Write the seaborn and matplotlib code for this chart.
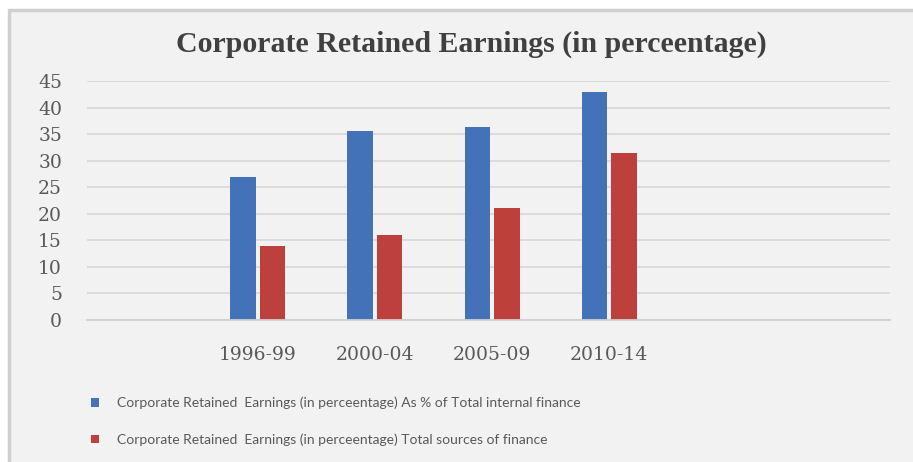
import matplotlib
matplotlib.use("Agg")
import matplotlib.pyplot as plt
from matplotlib.patches import Rectangle
import seaborn as sns
import pandas as pd

periods = ["1996-99", "2000-04", "2005-09", "2010-14"]
internal_finance = [27.0, 35.6, 36.4, 42.9]
total_sources = [14.0, 16.0, 21.1, 31.4]
series_names = [
    "Corporate Retained  Earnings (in perceentage) As % of Total internal finance",
    "Corporate Retained  Earnings (in perceentage) Total sources of finance",
]
y_ticks = [0, 5, 10, 15, 20, 25, 30, 35, 40, 45]
title = "Corporate Retained Earnings (in perceentage)"

df = pd.DataFrame({
    "period": periods * 2,
    "value": internal_finance + total_sources,
    "series": [series_names[0]] * len(periods) + [series_names[1]] * len(periods),
})

sns.set_style("white")
W, H = 913, 462
fig = plt.figure(figsize=(W / 100, H / 100), dpi=100)
fig.patch.set_facecolor("white")
# chart frame
fig.patches.append(Rectangle((9 / W, -0.01), 1.02, 1 - 10 / H + 0.01, transform=fig.transFigure,
                             facecolor="#f2f2f2", edgecolor="#cfcfcf", linewidth=2.5, zorder=-5))

ax = fig.add_axes([87 / W, 1 - 320 / H, (890 - 87) / W, (320 - 81) / H])
ax.set_facecolor("none")
ax.set_zorder(2)

palette = {series_names[0]: "#4472B8", series_names[1]: "#BE403D"}
sns.barplot(data=df, x="period", y="value", hue="series", order=periods,
            hue_order=series_names, palette=palette, width=0.5, gap=0.12,
            saturation=1, ax=ax, legend=True, linewidth=0, edgecolor="none")

ax.set_ylim(0, 45)
ax.set_xlim(-1.46, 5.4)
ax.set_yticks(y_ticks)
ax.set_yticklabels([str(t) for t in y_ticks])
ax.set_xlabel("")
ax.set_ylabel("")
ax.yaxis.grid(True, color="#d9d9d9", linewidth=1.3)
ax.set_axisbelow(True)
for s in ["top", "right", "left"]:
    ax.spines[s].set_visible(False)
ax.spines["bottom"].set_color("#d0d0d0")
ax.spines["bottom"].set_linewidth(1.3)
ax.tick_params(axis="both", length=0, labelsize=13.5, colors="#595959")
ax.tick_params(axis="y", pad=18)
ax.tick_params(axis="x", pad=19)
for lab in ax.get_xticklabels() + ax.get_yticklabels():
    lab.set_fontfamily("DejaVu Serif")

handles, labels = ax.get_legend_handles_labels()
ax.get_legend().remove()
leg = fig.legend(handles, labels, loc="upper left", bbox_to_anchor=(78 / W, 1 - 384 / H),
                 frameon=False, prop={"family": "Lato", "size": 10},
                 handlelength=0.6, handleheight=0.6, handletextpad=1.3,
                 labelspacing=1.75, labelcolor="#595959")

fig.text(471 / W, 1 - 44 / H, title, ha="center", va="center",
         fontfamily="Liberation Serif", fontweight="bold", fontsize=21.5, color="#404040")

fig.savefig("out.png", dpi=100)
